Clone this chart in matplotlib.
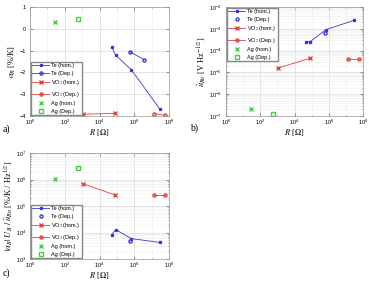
import numpy as np
import matplotlib
matplotlib.use('Agg')
import matplotlib.pyplot as plt
from matplotlib.ticker import LogLocator, NullFormatter, FixedLocator

# Te, homogeneous
te_hom_R = [5.0e4, 8.5e4, 6.8e5, 3.0e7]
te_hom_alpha = [-0.83, -1.21, -1.88, -3.69]
te_hom_noise = [2.6e-4, 2.6e-4, 9.1e-4, 2.45e-3]
te_hom_fom = [8.3e3, 1.29e4, 5.9e3, 4.2e3]
# Te, deposited
te_dep_R = [5.8e5, 3.8e6]
te_dep_alpha = [-1.06, -1.42]
te_dep_noise = [6.2e-4]
te_dep_fom = [4.8e3]
# VO2, homogeneous
vo2_hom_R = [1.12e3, 7.9e4]
vo2_hom_alpha = [-3.92, -3.88]
vo2_hom_noise = [1.6e-5, 4.4e-5]
vo2_hom_fom = [6.9e5, 2.6e5]
# VO2, deposited
vo2_dep_R = [1.38e7, 5.9e7]
vo2_dep_alpha = [-3.89, -3.97]
vo2_dep_noise = [4.2e-5, 4.2e-5]
vo2_dep_fom = [2.7e5, 2.7e5]
# Ag
ag_hom_R = [27]
ag_hom_alpha = [0.33]
ag_hom_noise = [2.1e-7]
ag_hom_fom = [1.05e6]
ag_dep_R = [580]
ag_dep_alpha = [0.43]
ag_dep_noise = [1.2e-7]
ag_dep_fom = [2.75e6]

blue = '#3a3ad0'
red = '#e04040'
green = '#40d040'

plt.rcParams['font.family'] = ['Liberation Sans', 'DejaVu Sans']
plt.rcParams['mathtext.fontset'] = 'stix'
plt.rcParams['font.size'] = 4.5

W, H = 369, 281
fig = plt.figure(figsize=(W / 100, H / 100), dpi=100)

def box(l, t, r, b):
    return [l / W, 1 - b / H, (r - l) / W, (b - t) / H]

ax_a = fig.add_axes(box(30, 7, 169, 116))
ax_b = fig.add_axes(box(226, 7, 363, 116))
ax_c = fig.add_axes(box(30, 153, 169, 259))

lw = 0.6
ms = 2.2

def style(ax, logy):
    ax.set_xscale('log')
    ax.set_xlim(1, 1e8)
    ax.xaxis.set_major_locator(FixedLocator([1e0, 1e2, 1e4, 1e6, 1e8]))
    ax.xaxis.set_minor_locator(FixedLocator([1e1, 1e3, 1e5, 1e7]))
    ax.xaxis.set_minor_formatter(NullFormatter())
    if logy:
        ax.set_yscale('log')
        ax.yaxis.set_minor_locator(LogLocator(base=10, subs=np.arange(2, 10)))
        ax.yaxis.set_minor_formatter(NullFormatter())
    ax.grid(True, which='major', color='#d8d8d8', lw=0.5)
    ax.grid(True, which='minor', color='#eeeeee', lw=0.4)
    ax.set_axisbelow(True)
    ax.tick_params(which='both', direction='in', top=True, right=True,
                   labelsize=4, length=2, width=0.4, colors='#444444',
                   labelcolor='black')
    ax.tick_params(axis='x', pad=1.5)
    ax.tick_params(axis='y', pad=3)
    ax.tick_params(which='minor', length=1)
    for s in ax.spines.values():
        s.set_color('#999999')
        s.set_linewidth(0.5)
    ax.set_xlabel(r'$R$ [$\Omega$]', fontfamily='Liberation Serif', fontsize=6, labelpad=0)

def leg(ax, loc):
    ax.legend(loc=loc, fontsize=4, handlelength=3.0, handletextpad=0.4,
              labelspacing=0.45, borderpad=0.3, borderaxespad=0.1,
              framealpha=1, edgecolor='#888888', fancybox=False)

# a) temperature coefficient
ax = ax_a
ax.plot(te_hom_R, te_hom_alpha, '-*', color=blue, lw=lw, ms=ms, label='Te (hom.)')
ax.plot(te_dep_R, te_dep_alpha, '-o', color=blue, lw=lw, ms=ms, mfc='none', label='Te (Dep.)')
ax.plot(vo2_hom_R, vo2_hom_alpha, '-x', color=red, lw=lw, ms=ms, label=r'VO$_2$ (hom.)')
ax.plot(vo2_dep_R, vo2_dep_alpha, '-o', color=red, lw=lw, ms=ms, mfc='none', label=r'VO$_2$ (Dep.)')
ax.plot(ag_hom_R, ag_hom_alpha, 'x', color=green, ms=ms, label='Ag (hom.)')
ax.plot(ag_dep_R, ag_dep_alpha, 's', color=green, ms=ms, mfc='none', label='Ag (Dep.)')
style(ax, False)
ax.set_ylim(-4, 1)
ax.set_yticks([-4, -3, -2, -1, 0, 1])
ax.set_ylabel(r'$\alpha_R$ [%/K]', fontfamily='Liberation Serif', fontsize=6, labelpad=1)
leg(ax, 'lower left')

# b) noise
ax = ax_b
ax.plot(te_hom_R, te_hom_noise, '-*', color=blue, lw=lw, ms=ms, label='Te (hom.)')
ax.plot(te_dep_R[:1], te_dep_noise, 'o', color=blue, ms=ms, mfc='none', label='Te (Dep.)')
ax.plot(vo2_hom_R, vo2_hom_noise, '-x', color=red, lw=lw, ms=ms, label=r'VO$_2$ (hom.)')
ax.plot(vo2_dep_R, vo2_dep_noise, '-o', color=red, lw=lw, ms=ms, mfc='none', label=r'VO$_2$ (Dep.)')
ax.plot(ag_hom_R, ag_hom_noise, 'x', color=green, ms=ms, label='Ag (hom.)')
ax.plot(ag_dep_R, ag_dep_noise, 's', color=green, ms=ms, mfc='none', label='Ag (Dep.)')
style(ax, True)
ax.set_ylim(1e-7, 1e-2)
ax.set_ylabel(r'$\tilde{u}_{Rn}$ [V Hz$^{-1/2}$]', fontfamily='Liberation Serif', fontsize=6, labelpad=0)
leg(ax, 'upper left')

# c) figure of merit
ax = ax_c
ax.plot(te_hom_R, te_hom_fom, '-*', color=blue, lw=lw, ms=ms, label='Te (hom.)')
ax.plot(te_dep_R[:1], te_dep_fom, 'o', color=blue, ms=ms, mfc='none', label='Te (Dep.)')
ax.plot(vo2_hom_R, vo2_hom_fom, '-x', color=red, lw=lw, ms=ms, label=r'VO$_2$ (hom.)')
ax.plot(vo2_dep_R, vo2_dep_fom, '-o', color=red, lw=lw, ms=ms, mfc='none', label=r'VO$_2$ (Dep.)')
ax.plot(ag_hom_R, ag_hom_fom, 'x', color=green, ms=ms, label='Ag (hom.)')
ax.plot(ag_dep_R, ag_dep_fom, 's', color=green, ms=ms, mfc='none', label='Ag (Dep.)')
style(ax, True)
ax.set_ylim(1e3, 1e7)
ax.set_ylabel(r'$|\alpha_R|\ U_B\ /\ \tilde{u}_{Rn}$ [%/K / Hz$^{1/2}$]',
              fontfamily='Liberation Serif', fontsize=6, labelpad=0)
leg(ax, 'lower left')

fig.text(3 / W, 1 - 129 / H, 'a)', fontfamily='Liberation Serif', fontsize=7, va='center')
fig.text(190 / W, 1 - 128 / H, 'b)', fontfamily='Liberation Serif', fontsize=7, va='center')
fig.text(3 / W, 1 - 273 / H, 'c)', fontfamily='Liberation Serif', fontsize=7, va='center')

fig.savefig('out.png', dpi=100)
